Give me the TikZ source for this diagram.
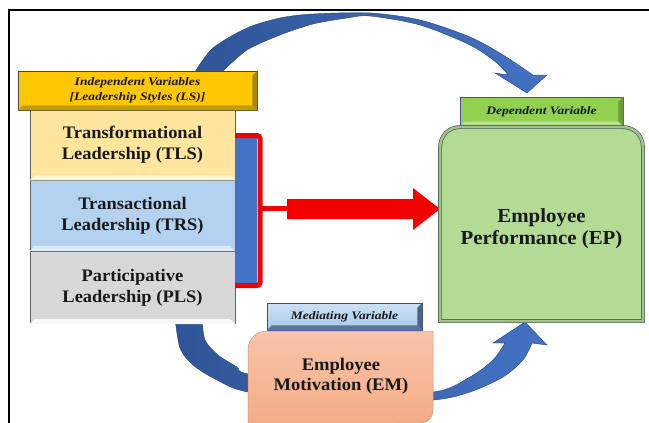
\documentclass[tikz,border=0pt]{standalone}
\usepackage{fontspec}
\setmainfont[FakeStretch=1.05]{Liberation Serif}
\newfontfamily\headfont[FakeStretch=1.18]{Liberation Serif}
\usetikzlibrary{positioning}

\definecolor{goldfill}{HTML}{FFC700}
\definecolor{golddark}{HTML}{A8860F}
\definecolor{tlsfill}{HTML}{FFE69C}
\definecolor{trsfill}{HTML}{B2D2F0}
\definecolor{plsfill}{HTML}{D8D8D8}
\definecolor{barblue}{HTML}{4472C4}
\definecolor{darkblue}{HTML}{2F5597}
\definecolor{brightred}{HTML}{F50000}
\definecolor{depfill}{HTML}{92D050}
\definecolor{epfill}{HTML}{B3DB96}
\definecolor{epedge}{HTML}{4A6450}
\definecolor{medfill}{HTML}{A5C8EC}
\definecolor{meddark}{HTML}{5B7596}
\definecolor{emfill}{HTML}{F4AC86}
\definecolor{emtop}{HTML}{F8C4AA}

\newcommand{\bevelstrip}[2]% node, colour (bottom face)
{\fill[#2] (#1.south west) -- (#1.south east) -- ([shift={(-5,-5)}]#1.south east) -- ([shift={(5,-5)}]#1.south west) -- cycle;
}
\newcommand{\bevelright}[2]% node, colour (right face)
{\fill[#2] (#1.north east) -- (#1.south east) -- ([shift={(-5,-5)}]#1.south east) -- ([shift={(-5,5)}]#1.north east) -- cycle;
}

\begin{document}
\begin{tikzpicture}[x=1pt,y=-1pt,
  leadbox/.style={draw=gray!75!black,line width=0.8pt,minimum width=205pt,minimum height=70pt,inner sep=0pt,align=center,text=black!90,font=\fontsize{17.6}{21}\selectfont\bfseries},
  varhead/.style={line width=0.8pt,inner sep=0pt,align=center,text=black!90,font=\headfont\fontsize{11.5}{15}\selectfont\bfseries\itshape},
  bigtext/.style={align=center,text=black!90}]
\useasboundingbox (0,0) rectangle (649,423);

% curved arrows
\shadedraw[left color=darkblue,right color=barblue,draw=darkblue!80!black,line width=0.4pt]
  plot[smooth] coordinates {(195,72) (213,48) (247,28) (280,18) (313,14) (370,13) (420,20) (470,37) (503,55) (533,75)}
  -- (547,75) -- (527,93) -- (495,73) -- (508,75)
  -- plot[smooth] coordinates {(508,75) (497,63) (470,45) (420,25) (370,16) (347,18) (313,24) (280,35) (247,50) (222,72)} -- cycle;
\shadedraw[left color=darkblue,right color=barblue,draw=darkblue!80!black,line width=0.4pt]
  plot[smooth] coordinates {(175,318) (180,348) (193,365) (217,380) (248,392) (340,403) (433,400) (470,392) (503,377) (523,360) (532,343)}
  -- (547,345) -- (525,322) -- (493,343) -- (505,343)
  -- plot[smooth] coordinates {(505,343) (493,360) (470,377) (433,392) (340,390) (248,374) (237,367) (218,355) (205,340) (202,318)} -- cycle;

% leadership styles
\node[leadbox,fill=tlsfill] (tls) at (132.5,145) {Transformational\\Leadership (TLS)};
\node[leadbox,fill=trsfill,below=0pt of tls] (trs) {Transactional\\Leadership (TRS)};
\node[leadbox,fill=plsfill,below=0pt of trs,minimum height=72pt] (pls) {Participative\\Leadership (PLS)};
\bevelstrip{tls}{white!60!tlsfill}
\bevelstrip{trs}{white!55!trsfill}
\bevelstrip{pls}{white!85!plsfill}
\node[varhead,fill=goldfill,draw=gray!55!black,minimum width=239pt,minimum height=39pt] (indhead) at (137.5,90.5) {Independent Variables\\{[}Leadership Styles (LS){]}};
\bevelstrip{indhead}{golddark!70!goldfill}
\bevelright{indhead}{golddark}

% bracket and main arrow
\fill[barblue] (235,138) rectangle (257,283);
\draw[brightred,line width=5pt,rounded corners=3pt] (235,135.5) -- (260,135.5) -- (260,285.5) -- (235,285.5);
\draw[brightred,line width=5pt] (260,208) -- (290,208);
\fill[brightred] (287,199) -- (413,199) -- (413,188) -- (440,209) -- (413,230) -- (413,219) -- (287,219) -- cycle;

% dependent variable
\node[varhead,fill=depfill,draw=gray!60!blue,minimum width=163pt,minimum height=29pt] (dephead) at (541.5,111.5) {Dependent Variable};
\bevelstrip{dephead}{white!35!depfill}
\bevelright{dephead}{depfill!75!black}
\filldraw[fill=epfill,draw=epedge,double=epfill!70!gray,double distance=2.5pt,line width=0.7pt]
  (440,321) -- (440,148) .. controls (440,136) and (448,127) .. (461,127) -- (622,127)
  .. controls (635,127) and (643,136) .. (643,148) -- (643,321) -- cycle;
\node[bigtext,font=\fontsize{19.9}{22}\selectfont\bfseries] (ep) at (541.5,229) {Employee\\Performance (EP)};

% mediating variable
\node[varhead,top color=white!45!medfill,bottom color=medfill,draw=gray!50!blue,minimum width=155pt,minimum height=27pt] (medhead) at (344.5,316.5) {Mediating Variable};
\bevelstrip{medhead}{meddark}
\bevelright{medhead}{meddark!85!black}
\shadedraw[top color=emtop,bottom color=emfill,draw=emfill!85!black,line width=0.5pt]
  (248,425) -- (248,350) .. controls (248,339) and (256,331) .. (267,331) -- (433,331)
  -- (433,409) .. controls (433,418) and (428,423) .. (419,423) -- (248,425) -- cycle;
\node[bigtext,font=\fontsize{17.7}{20}\selectfont\bfseries] (em) at (341,376) {Employee\\Motivation (EM)};

% frame
\draw[line width=1.2pt] (9,423) -- (9,10) -- (649,10);
\end{tikzpicture}
\end{document}
